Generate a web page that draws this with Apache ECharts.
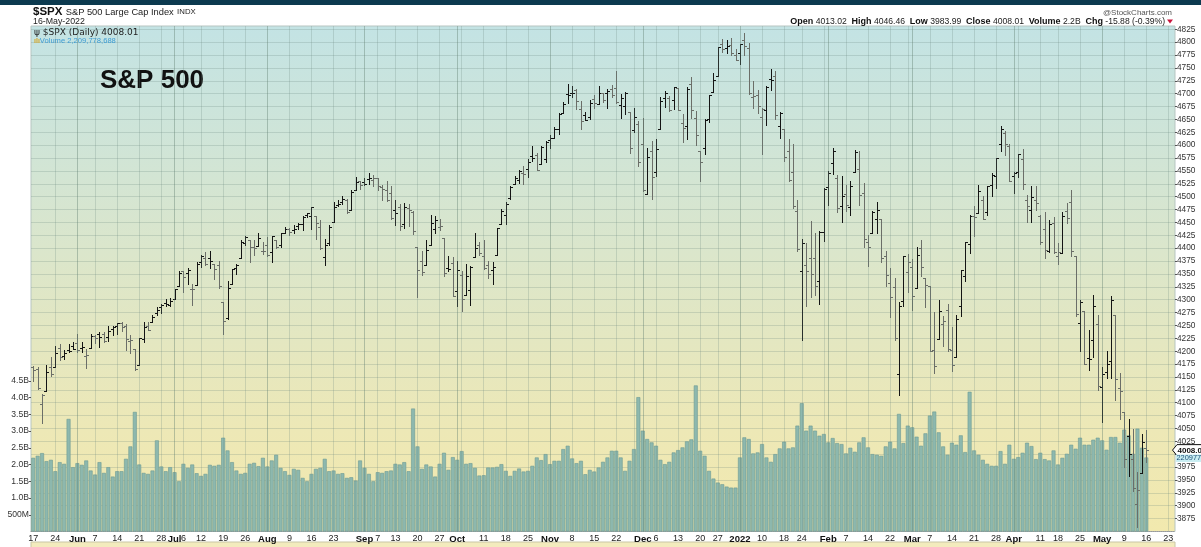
<!DOCTYPE html>
<html><head><meta charset="utf-8">
<script src="https://cdn.jsdelivr.net/npm/echarts@6/dist/echarts.min.js"></script>
<style>html,body{margin:0;padding:0;background:#fff}#c{width:1201px;height:547px}</style>
</head><body><div id="c"></div>
<script>
// ---------- DATA ----------
const holidays = ['2021-05-31','2021-07-05','2021-09-06','2021-11-25','2021-12-24','2022-01-17','2022-02-21','2022-04-15'];
const firstDay = '2021-05-17', lastAxisDay = '2022-05-24';
const prevClose0 = 4173.85;
const open = [4169.92,4165.94,4098.45,4121.97,4168.61,4170.16,4205.94,4191.59,4201.94,4210.77,
4216.52,4206.82,4191.43,4206.05,4229.34,4233.81,4232.99,4228.56,4242.90,4248.31,4255.28,4248.87,4220.37,4204.78,4173.40,4224.61,4249.27,4256.97,4274.45,4284.90,4293.21,4290.65,
4300.73,4326.60,4356.46,4351.01,4321.07,4329.38,4372.41,4381.07,4380.11,4369.02,4367.43,4296.40,4265.11,4331.13,4361.27,4381.20,4409.58,4416.38,4402.95,4403.59,4395.12,
4406.86,4392.74,4415.95,4406.86,4429.07,4437.77,4435.79,4442.18,4446.08,4464.84,4461.65,4462.12,4440.94,4382.44,4410.56,4450.29,4484.40,4490.45,4493.75,4474.10,4513.76,4529.75,
4528.80,4534.48,4532.42,4535.38,4518.09,4513.02,4506.92,4474.81,4479.33,4447.49,4477.09,4469.74,4402.95,4374.45,4367.43,4406.75,4438.04,4442.12,4419.54,4362.41,4370.67,
4317.16,4348.84,4309.87,4319.57,4383.73,4406.51,4385.44,4368.31,4358.01,4386.75,4447.69,4463.72,4497.34,4524.42,4532.24,4546.12,4553.69,4578.69,4580.22,4562.84,4572.87,
4610.62,4613.34,4630.65,4662.93,4699.26,4701.48,4707.25,4670.26,4659.39,4655.24,4689.30,4679.42,4701.50,4700.72,4708.44,4712.00,4678.48,4675.78,4664.63,4628.75,4640.25,
4602.82,4504.73,4589.49,4548.37,4631.97,4690.86,4691.00,4687.64,4710.30,4642.99,4636.46,4719.13,4652.50,4587.90,4594.96,4650.36,4703.96,4733.99,4795.49,4788.64,4794.23,4775.21,
4778.14,4804.51,4787.99,4693.39,4697.66,4655.34,4669.14,4728.59,4733.56,4637.99,4632.24,4588.03,4547.35,4471.38,4356.32,4366.64,4380.58,4380.58,4336.19,4431.79,
4519.57,4566.39,4535.41,4482.79,4505.75,4480.02,4547.00,4553.24,4506.27,4412.61,4429.28,4455.75,4456.06,4384.57,4332.74,4324.93,4155.77,4298.38,4354.17,
4363.14,4322.56,4401.31,4342.12,4327.01,4202.66,4223.10,4252.55,4279.50,4202.75,4188.82,4288.14,4345.11,4407.34,4462.40,4469.10,4493.10,4469.98,4522.91,4541.09,4602.86,4624.20,4599.02,
4540.32,4547.97,4572.45,4494.17,4474.65,4494.15,4462.64,4437.59,4394.30,4449.12,4385.63,4390.63,4472.26,4489.17,4385.83,4255.34,4278.14,4186.52,4222.58,4253.75,
4130.61,4159.78,4181.18,4270.43,4128.17,4081.27,4035.18,3990.08,3903.95,3963.90,4013.02];
const high = [4171.92,4169.15,4116.93,4172.80,4188.72,4209.52,4213.42,4202.61,4213.38,4218.36,
4234.12,4217.37,4204.39,4233.45,4232.34,4236.74,4237.09,4249.74,4248.38,4255.59,4257.16,4251.89,4232.29,4204.78,4226.24,4255.84,4256.60,4271.28,4286.12,4292.14,4300.52,4302.43,
4320.66,4355.43,4356.46,4361.88,4330.88,4372.51,4386.68,4392.37,4393.68,4369.02,4375.09,4296.40,4336.84,4359.70,4369.87,4415.18,4422.73,4416.38,4415.47,4429.97,4412.25,
4422.18,4423.79,4416.17,4429.76,4440.82,4439.39,4445.21,4449.44,4461.77,4468.37,4480.26,4462.12,4454.32,4418.61,4444.35,4489.88,4492.81,4501.71,4495.90,4513.33,4537.36,4531.39,
4537.11,4545.85,4541.45,4535.38,4521.79,4529.90,4520.47,4492.99,4485.68,4486.87,4485.87,4471.52,4402.95,4394.87,4416.75,4465.40,4463.12,4457.30,4419.54,4385.57,4382.55,
4375.19,4355.51,4369.23,4365.57,4429.97,4412.02,4415.88,4374.89,4372.87,4439.73,4475.82,4488.75,4520.40,4540.87,4551.44,4559.67,4572.62,4598.53,4584.57,4597.55,4608.08,
4620.34,4635.15,4663.46,4683.00,4718.50,4714.92,4708.53,4684.85,4664.55,4688.47,4697.42,4714.95,4701.50,4708.80,4717.75,4743.83,4699.39,4702.87,4664.63,4672.95,4646.02,
4652.94,4595.46,4608.03,4612.60,4694.04,4705.06,4695.26,4713.57,4710.30,4660.47,4712.60,4731.99,4666.70,4587.90,4651.14,4697.67,4740.74,4791.49,4807.02,4804.06,4808.93,4786.83,
4796.64,4818.62,4797.70,4725.01,4707.95,4673.02,4714.13,4748.83,4744.13,4665.13,4632.24,4611.55,4602.11,4494.52,4417.35,4411.01,4453.23,4428.74,4432.72,4516.89,
4550.49,4595.31,4542.88,4539.66,4521.86,4531.32,4590.03,4588.92,4526.33,4426.22,4472.77,4489.55,4456.06,4394.60,4362.12,4341.51,4294.73,4385.34,4388.84,
4378.45,4401.48,4416.78,4342.12,4327.01,4276.94,4299.40,4268.28,4291.01,4247.57,4271.05,4357.86,4412.67,4465.40,4481.75,4522.00,4501.07,4520.58,4546.03,4575.65,4637.30,4627.77,4603.07,
4548.70,4583.50,4593.45,4503.94,4521.16,4520.41,4464.35,4471.00,4453.92,4460.46,4410.31,4471.03,4488.29,4512.94,4385.83,4299.02,4278.14,4240.71,4308.45,4269.68,
4169.81,4200.10,4307.66,4270.43,4157.69,4081.27,4068.82,4049.09,3964.80,4038.88,4046.46];
const low = [4142.69,4125.99,4061.41,4121.97,4151.72,4170.16,4182.52,4184.11,4197.78,4203.57,
4197.59,4198.27,4167.93,4206.05,4215.66,4208.41,4218.74,4220.34,4232.25,4234.07,4238.35,4202.45,4196.05,4164.40,4173.40,4217.27,4241.43,4256.97,4271.16,4274.67,4287.04,4287.96,
4300.73,4326.60,4314.37,4329.79,4289.37,4329.38,4364.03,4366.92,4362.36,4340.70,4322.53,4233.13,4262.05,4331.13,4350.06,4381.20,4405.45,4372.51,4387.01,4403.59,4389.65,
4384.81,4373.00,4400.23,4402.66,4429.07,4424.74,4430.03,4436.42,4435.96,4460.82,4437.66,4417.83,4397.59,4367.73,4406.80,4450.29,4482.28,4485.66,4468.99,4474.10,4513.76,4515.80,
4522.02,4524.66,4521.30,4513.00,4493.95,4492.07,4457.66,4445.70,4435.46,4438.37,4443.80,4427.76,4305.91,4347.96,4367.43,4406.75,4430.27,4436.19,4346.33,4355.08,4306.24,
4288.52,4278.94,4309.87,4290.49,4383.73,4386.22,4360.59,4342.09,4329.92,4386.75,4447.69,4447.47,4496.41,4524.40,4526.89,4524.00,4537.36,4569.17,4551.66,4562.84,4567.59,
4595.06,4613.34,4621.19,4662.59,4681.32,4694.39,4670.87,4630.86,4648.31,4650.77,4672.86,4679.42,4684.41,4672.78,4694.22,4682.17,4652.66,4659.89,4585.43,4625.26,4560.00,
4510.27,4504.73,4495.12,4540.51,4631.97,4674.52,4665.98,4670.24,4667.60,4606.52,4611.22,4651.89,4600.22,4531.10,4583.16,4645.53,4703.96,4733.99,4780.04,4778.08,4775.33,4765.75,
4758.17,4774.27,4699.44,4671.26,4662.74,4582.24,4638.27,4706.71,4650.29,4614.75,4568.70,4530.20,4477.95,4395.34,4222.62,4287.11,4304.80,4309.50,4292.46,4414.02,
4483.53,4544.32,4470.39,4451.50,4471.47,4465.40,4547.00,4484.31,4401.41,4364.84,4429.28,4429.68,4373.81,4327.22,4267.11,4221.51,4114.65,4286.83,4315.12,
4279.54,4322.56,4345.56,4284.98,4199.85,4157.87,4223.10,4209.80,4200.49,4161.72,4187.90,4267.92,4335.65,4390.57,4424.30,4469.10,4455.81,4465.17,4501.07,4517.69,4589.66,4581.32,4530.41,
4507.57,4539.21,4514.17,4450.04,4450.30,4474.60,4408.38,4381.34,4392.70,4390.77,4370.30,4390.63,4448.76,4384.47,4267.62,4200.82,4175.04,4162.90,4188.63,4124.28,
4062.51,4147.08,4148.91,4106.01,4067.91,3975.48,3958.17,3928.82,3858.87,3963.90,3983.99];
const close = [4163.29,4127.83,4115.68,4159.12,4155.86,4197.05,4188.13,4195.99,4200.88,4204.11,
4202.04,4208.12,4192.85,4229.89,4226.52,4227.26,4219.55,4239.18,4247.44,4255.15,4246.59,4223.70,4221.86,4166.45,4224.79,4246.44,4241.84,4266.49,4280.70,4290.61,4291.80,4297.50,
4319.94,4352.34,4343.54,4358.13,4320.82,4369.55,4384.63,4369.21,4374.30,4360.03,4327.16,4258.49,4323.06,4358.69,4367.48,4411.79,4422.30,4401.46,4400.64,4419.15,4395.26,
4387.16,4423.15,4402.66,4429.10,4436.52,4432.35,4436.75,4447.70,4460.83,4468.00,4479.71,4448.08,4400.27,4405.80,4441.67,4479.53,4486.23,4496.19,4470.00,4509.37,4528.79,4522.68,
4524.09,4536.95,4535.43,4520.03,4514.07,4493.28,4458.58,4468.73,4443.05,4480.70,4473.75,4432.99,4357.73,4354.19,4395.64,4448.98,4455.48,4443.11,4352.63,4359.46,4307.54,
4357.04,4300.46,4345.72,4363.55,4399.76,4391.34,4361.19,4350.65,4363.80,4438.26,4471.37,4486.46,4519.63,4536.19,4549.78,4544.90,4566.48,4574.79,4551.68,4596.42,4605.38,
4613.67,4630.65,4660.57,4680.06,4697.53,4701.70,4685.25,4646.71,4649.27,4682.85,4682.80,4700.90,4688.67,4704.54,4697.96,4682.94,4690.70,4701.46,4594.62,4655.27,4567.00,
4513.04,4577.10,4538.43,4591.67,4686.75,4701.21,4667.45,4712.02,4668.97,4634.09,4709.85,4668.67,4620.64,4568.02,4649.23,4696.56,4725.79,4791.19,4786.35,4793.06,4778.73,4766.18,
4796.56,4793.54,4700.58,4696.05,4677.03,4670.29,4713.07,4726.35,4659.03,4662.85,4577.11,4532.76,4482.73,4397.94,4410.13,4356.45,4349.93,4326.51,4431.85,4515.55,
4546.54,4589.38,4477.44,4500.53,4483.87,4521.54,4587.18,4504.08,4418.64,4401.67,4471.07,4475.01,4380.26,4348.87,4304.76,4225.50,4288.70,4384.65,4373.94,
4306.26,4386.54,4363.49,4328.87,4201.09,4170.70,4277.88,4259.52,4204.31,4173.11,4262.45,4357.86,4411.67,4463.12,4461.18,4511.61,4456.24,4520.16,4543.06,4575.52,4631.60,4602.45,4530.41,
4545.86,4582.64,4525.12,4481.15,4500.21,4488.28,4412.53,4397.45,4446.59,4392.59,4391.69,4462.21,4459.45,4393.66,4271.78,4296.12,4175.20,4183.96,4287.50,4131.93,
4155.38,4175.48,4300.17,4146.87,4123.34,3991.24,4001.05,3935.18,3930.08,4023.89,4008.01];
// volume, billions of shares
const volume = [2.20,2.26,2.34,2.10,2.14,1.80,2.07,2.02,3.36,1.92,
2.04,1.99,2.12,1.82,1.70,2.07,1.75,1.92,1.64,1.80,
1.80,2.17,2.54,3.57,2.00,1.75,1.72,1.82,2.72,1.94,
1.80,1.92,1.77,1.50,2.02,1.90,2.00,1.74,1.66,1.72,
1.99,1.96,1.99,2.80,2.42,2.07,1.82,1.72,1.75,2.02,
2.05,1.95,2.20,1.94,2.12,2.29,1.90,1.80,1.69,1.87,
1.84,1.60,1.50,1.72,1.87,1.90,2.17,1.80,1.82,1.72,
1.74,1.60,1.62,1.52,2.12,1.90,1.72,1.50,1.77,1.75,
1.80,1.82,2.02,2.00,2.07,1.80,3.67,2.54,1.87,2.00,
1.94,1.64,2.02,2.35,1.84,2.22,2.14,2.40,2.02,2.04,
1.90,1.67,1.68,1.91,1.91,1.93,2.01,1.81,1.66,1.81,
1.88,1.79,1.81,1.96,2.21,2.13,2.31,2.01,2.11,2.11,
2.46,2.56,2.18,2.04,2.11,1.71,1.84,1.79,1.91,2.08,
2.21,2.41,2.41,2.21,1.81,2.11,2.46,4.01,3.01,2.76,
2.66,2.56,2.14,2.01,2.08,2.36,2.43,2.51,2.69,2.75,
4.36,2.41,2.26,1.81,1.58,1.46,1.41,1.34,1.31,1.31,
2.21,2.81,2.76,2.33,2.36,2.61,2.21,2.08,2.31,2.48,
2.68,2.48,2.51,3.16,3.83,3.01,3.16,3.01,2.86,2.91,
2.66,2.79,2.64,2.61,2.33,2.50,2.38,2.66,2.81,2.51,
2.31,2.29,2.26,2.54,2.68,2.48,3.51,2.64,3.16,3.11,
2.83,2.56,2.93,3.46,3.58,2.96,2.54,2.29,2.65,2.59,
2.87,2.37,4.17,2.42,2.29,2.14,2.02,1.96,1.96,2.40,
2.02,2.59,2.17,2.22,2.35,2.65,2.55,2.16,2.35,2.16,
2.12,2.42,2.00,2.20,2.32,2.59,2.47,2.80,2.59,2.59,
2.74,2.80,2.72,2.44,2.82,2.82,2.65,3.04,2.87,2.32,
3.07,2.50,2.209778688];
const priceTicks = [3875,3900,3925,3950,3975,4000,4025,4050,4075,4100,4125,4150,4175,4200,4225,4250,4275,4300,4325,4350,4375,4400,4425,4450,4475,4500,4525,4550,4575,4600,4625,4650,4675,4700,4725,4750,4775,4800,4825];
const volTicks = [0.5,1,1.5,2,2.5,3,3.5,4,4.5];
const weekLabelDates = ['2021-05-17','2021-05-24','2021-06-07','2021-06-14','2021-06-21','2021-06-28','2021-07-06','2021-07-12','2021-07-19','2021-07-26','2021-08-09','2021-08-16','2021-08-23','2021-09-07','2021-09-13','2021-09-20','2021-09-27','2021-10-11','2021-10-18','2021-10-25','2021-11-08','2021-11-15','2021-11-22','2021-12-06','2021-12-13','2021-12-20','2021-12-27','2022-01-10','2022-01-18','2022-01-24','2022-02-07','2022-02-14','2022-02-22','2022-03-07','2022-03-14','2022-03-21','2022-03-28','2022-04-11','2022-04-18','2022-04-25','2022-05-09','2022-05-16','2022-05-23'];
const monthLabels = [['2021-06-01','Jun'],['2021-07-01','Jul'],['2021-08-02','Aug'],['2021-09-01','Sep'],['2021-10-01','Oct'],['2021-11-01','Nov'],['2021-12-01','Dec'],['2022-01-03','2022'],['2022-02-01','Feb'],['2022-03-01','Mar'],['2022-04-01','Apr'],['2022-05-02','May']];

// ---------- BUILD ----------
const dates = [];
for (let t = Date.parse(firstDay + 'T00:00:00Z'); t <= Date.parse(lastAxisDay + 'T00:00:00Z'); t += 86400000) {
  const d = new Date(t), wd = d.getUTCDay(), s = d.toISOString().slice(0, 10);
  if (wd > 0 && wd < 6 && holidays.indexOf(s) < 0) dates.push(s);
}
const labelText = {};
weekLabelDates.forEach(d => { labelText[d] = { t: String(+d.slice(8)), b: false }; });
monthLabels.forEach(([d, t]) => { labelText[d] = { t: t, b: true }; });

const gridLines = [];
for (let i = 1; i < dates.length; i++) {
  const a = new Date(dates[i - 1] + 'T00:00:00Z'), b = new Date(dates[i] + 'T00:00:00Z');
  const m = a.getUTCMonth() !== b.getUTCMonth();
  const w = b.getUTCDay() <= a.getUTCDay();
  if (m || w) gridLines.push({ d: dates[i], m: m });
}

const GRID_TOP = 26, GRID_H = 505.5;
const PRICE_MIN = 3850, PRICE_MAX = 3850 + GRID_H / 0.51508;
const VOL_MAX = GRID_H / 33.5;

const ohlc = close.map((c, i) => [i, open[i], high[i], low[i], c, i ? close[i - 1] : prevClose0]);
const n = close.length;
const lastC = close[n - 1], lastO = open[n - 1], lastH = high[n - 1], lastL = low[n - 1], lastV = volume[n - 1];
const chg = lastC - close[n - 2], chgPct = chg / close[n - 2] * 100;

const chart = echarts.init(document.getElementById('c'));
const FONT = '"Liberation Sans", Arial, sans-serif';

chart.setOption({
  animation: false,
  grid: {
    left: 31, right: 26, top: GRID_TOP, height: GRID_H, show: true,
    borderColor: '#b7c5c1', borderWidth: 1,
    backgroundColor: { type: 'linear', x: 0, y: 0, x2: 0, y2: 1,
      colorStops: [{ offset: 0, color: '#c3e3e4' }, { offset: 0.45, color: '#dbe6cb' }, { offset: 0.8, color: '#ede8b6' }, { offset: 1, color: '#f2e9ae' }] }
  },
  xAxis: [{
    type: 'category', data: dates, boundaryGap: true,
    axisLine: { show: true, lineStyle: { color: '#9a9a9a', type: 'dotted', width: 1 } },
    axisTick: { show: false },
    splitLine: { show: false },
    axisLabel: {
      interval: (i, v) => !!labelText[v],
      formatter: v => { const L = labelText[v]; return L ? (L.b ? '{b|' + L.t + '}' : L.t) : ''; },
      fontSize: 9, color: '#222', fontFamily: FONT, margin: 3,
      rich: { b: { fontWeight: 'bold', fontSize: 9.5, color: '#111', fontFamily: FONT } }
    }
  }],
  yAxis: [{
    type: 'value', position: 'right', min: PRICE_MIN, max: PRICE_MAX, interval: 25,
    axisLine: { show: false },
    axisTick: { show: true, length: 2, customValues: priceTicks, lineStyle: { color: '#555' } },
    axisLabel: { customValues: priceTicks, fontSize: 8.3, color: '#333', fontFamily: FONT, margin: 2,
      formatter: v => (v >= 3875 && v <= 4825) ? String(v) : '' },
    splitLine: { show: true, lineStyle: { color: 'rgba(105,135,125,0.24)', width: 1 } }
  }, {
    type: 'value', position: 'left', min: 0, max: VOL_MAX,
    axisLine: { show: false },
    axisTick: { show: true, length: 2, customValues: volTicks, lineStyle: { color: '#555' } },
    axisLabel: { customValues: volTicks, fontSize: 8.6, color: '#333', fontFamily: FONT, margin: 2,
      formatter: v => v < 1 ? Math.round(v * 1000) + 'M' : v.toFixed(1) + 'B' },
    splitLine: { show: false }
  }],
  series: [{
    name: 'Volume', type: 'bar', xAxisIndex: 0, yAxisIndex: 1, data: volume,
    barWidth: 3.9,
    itemStyle: { color: '#8db8ae', borderColor: '#6b9b93', borderWidth: 0.6 },
    markLine: {
      silent: true, symbol: ['none', 'none'], label: { show: false },
      data: gridLines.map(g => [
        { coord: [g.d, 0], lineStyle: { color: g.m ? 'rgba(95,125,110,0.40)' : 'rgba(105,135,125,0.24)', width: 1, type: 'solid' } },
        { coord: [g.d, VOL_MAX] }
      ])
    },
    z: 1
  }, {
    name: '$SPX', type: 'custom', xAxisIndex: 0, yAxisIndex: 0, data: ohlc,
    encode: { x: 0, y: [1, 2, 3, 4] }, clip: true, z: 3,
    renderItem: function (params, api) {
      const i = api.value(0);
      const pO = api.coord([i, api.value(1)]), pH = api.coord([i, api.value(2)]);
      const pL = api.coord([i, api.value(3)]), pC = api.coord([i, api.value(4)]);
      const up = api.value(4) >= api.value(5);
      const col = up ? '#141414' : '#6b6e68';
      const x = Math.round(pH[0]) + 0.5;
      const yO = Math.round(pO[1]) + 0.5, yC = Math.round(pC[1]) + 0.5;
      return { type: 'group', children: [
        { type: 'line', shape: { x1: x, y1: Math.round(pH[1]), x2: x, y2: Math.round(pL[1]) + 1 }, style: { stroke: col, lineWidth: 1 } },
        { type: 'line', shape: { x1: x - 2.5, y1: yO, x2: x, y2: yO }, style: { stroke: col, lineWidth: 1 } },
        { type: 'line', shape: { x1: x, y1: yC, x2: x + 2.5, y2: yC }, style: { stroke: col, lineWidth: 1 } }
      ] };
    }
  }]
});

const yP = chart.convertToPixel({ yAxisIndex: 0 }, lastC);
const yV = chart.convertToPixel({ yAxisIndex: 1 }, lastV);
const fmt2 = v => v.toFixed(2);
const withCommas = v => String(Math.round(v)).replace(/\B(?=(\d{3})+(?!\d))/g, ',');

chart.setOption({
  graphic: [
    { type: 'rect', shape: { x: 0, y: 0, width: 1201, height: 5 }, style: { fill: '#0c3a4f' }, silent: true },
    { type: 'text', x: 33, y: 12, style: { text: '{a|$SPX} {b|S&P 500 Large Cap Index} {c|INDX}', textVerticalAlign: 'middle',
      rich: { a: { font: 'bold 11.5px ' + FONT, fill: '#111' }, b: { font: '9.3px ' + FONT, fill: '#222' }, c: { font: '7.8px ' + FONT, fill: '#222' } } } },
    { type: 'text', x: 33, y: 22, style: { text: '16-May-2022', font: '8.8px ' + FONT, fill: '#222', textVerticalAlign: 'middle' } },
    { type: 'text', x: 1172, y: 12.5, style: { text: '@StockCharts.com', font: '8px ' + FONT, fill: '#555', textAlign: 'right', textVerticalAlign: 'middle' } },
    { type: 'text', x: 1165, y: 22, style: {
      text: '{b|Open} ' + fmt2(lastO) + '  {b|High} ' + fmt2(lastH) + '  {b|Low} ' + fmt2(lastL) + '  {b|Close} ' + fmt2(lastC) +
            '  {b|Volume} ' + (lastV).toFixed(1) + 'B  {b|Chg} ' + fmt2(chg) + ' (' + chgPct.toFixed(2) + '%)',
      textAlign: 'right', textVerticalAlign: 'middle', font: '8.6px ' + FONT, fill: '#222',
      rich: { b: { font: 'bold 9px ' + FONT, fill: '#111' } } } },
    { type: 'polygon', shape: { points: [[1167, 19.5], [1173, 19.5], [1170, 23.5]] }, style: { fill: '#c8143c' } },
    { type: 'text', x: 34, y: 32.5, style: { text: 'ψ $SPX (Daily) ' + fmt2(lastC), font: '9px "DejaVu Sans", Verdana, sans-serif', fill: '#222', textVerticalAlign: 'middle' } },
    { type: 'text', x: 34, y: 41, style: { text: '{i|ılı}{v|Volume ' + withCommas(lastV * 1e9) + '}', textVerticalAlign: 'middle',
      rich: { i: { font: 'bold 7px ' + FONT, fill: '#d8a623' }, v: { font: '7.6px ' + FONT, fill: '#3b9bd3' } } } },
    { type: 'text', x: 100, y: 81, style: { text: 'S&P 500', font: 'bold 26px ' + FONT, fill: '#111', textVerticalAlign: 'middle' } },
    { type: 'polygon', shape: { points: [[1172.5, yP], [1177, yP - 5.5], [1202, yP - 5.5], [1202, yP + 5.5], [1177, yP + 5.5]] }, style: { fill: '#fff', stroke: '#111', lineWidth: 1 }, z: 10 },
    { type: 'text', x: 1177.5, y: yP + 0.5, style: { text: fmt2(lastC), font: 'bold 8px ' + FONT, fill: '#111', textVerticalAlign: 'middle' }, z: 11 },
    { type: 'rect', shape: { x: 1176, y: yV - 3, width: 26, height: 7.5 }, style: { fill: '#c9eef2' }, z: 10 },
    { type: 'text', x: 1176.5, y: yV + 0.8, style: { text: String(Math.round(lastV * 1e9)), font: '7.4px ' + FONT, fill: '#1d4f7a', textVerticalAlign: 'middle' }, z: 11 },
    { type: 'rect', shape: { x: 31, y: 542, width: 1144, height: 8 }, style: { fill: '#f3ebbd', stroke: '#c9c6a6', lineWidth: 1 } }
  ]
});
</script></body></html>
